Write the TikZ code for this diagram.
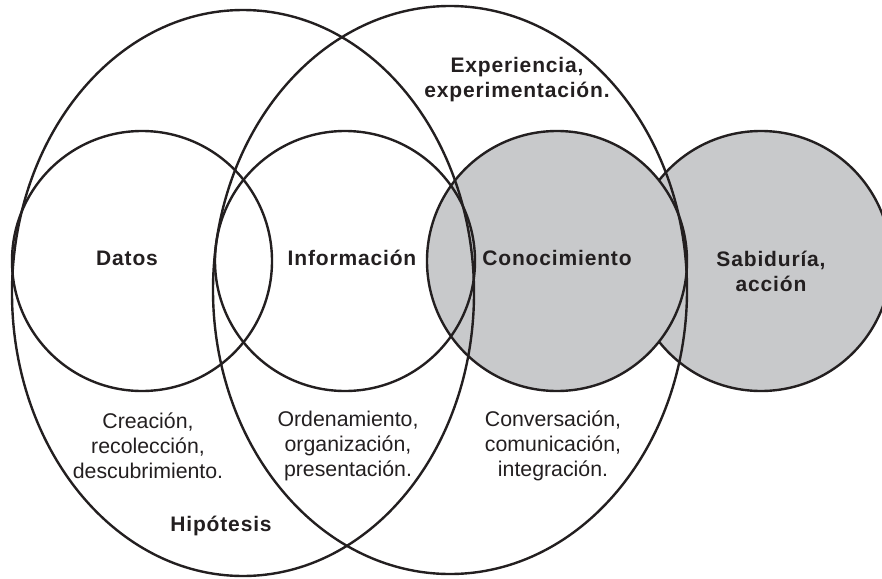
\documentclass[tikz,border=0pt]{standalone}
\usepackage{fontspec}
\setmainfont{Liberation Sans}
\newfontfamily\boldlab[LetterSpace=4]{Liberation Sans Bold}
\definecolor{shade}{RGB}{200,201,203}
\definecolor{ink}{RGB}{35,31,32}
\begin{document}
\begin{tikzpicture}[x=1pt,y=-1pt,
  outl/.style={draw=ink,line width=2.4pt},
  lab/.style={text=ink,font=\fontsize{21.3}{25}\selectfont,align=center,inner sep=0pt},
  blab/.style={text=ink,font=\fontsize{21}{25}\selectfont\boldlab,align=center,inner sep=0pt}]
\useasboundingbox (0,0) rectangle (882,578);
\clip (0,0) rectangle (882,578);
% filled circles
\draw[outl,fill=shade] (761,261) circle (130);
\draw[outl,fill=shade] (557,261) circle (130);
% outline circles
\draw[outl] (142,261) circle (130);
\draw[outl] (345,261) circle (130);
% big ellipses
\draw[outl] (243,293) ellipse (231 and 283);
\draw[outl] (450,290) ellipse (237 and 284);
% labels
\node[blab] (datos) at (127,258) {Datos};
\node[blab] (info) at (352,258) {Información};
\node[blab] (cono) at (557,258) {Conocimiento};
\node[blab] (sab) at (771,271) {Sabiduría,\\acción};
\node[blab] (exp) at (517,80) {Experiencia,\\experimentación.};
\node[blab] (hip) at (221,526) {Hipótesis};
\node[lab] (crea) at (148,446) {Creación,\\recolección,\\descubrimiento.};
\node[lab] (orde) at (348,446) {Ordenamiento,\\organización,\\presentación.};
\node[lab] (conv) at (553,446) {Conversación,\\comunicación,\\integración.};
\end{tikzpicture}
\end{document}
